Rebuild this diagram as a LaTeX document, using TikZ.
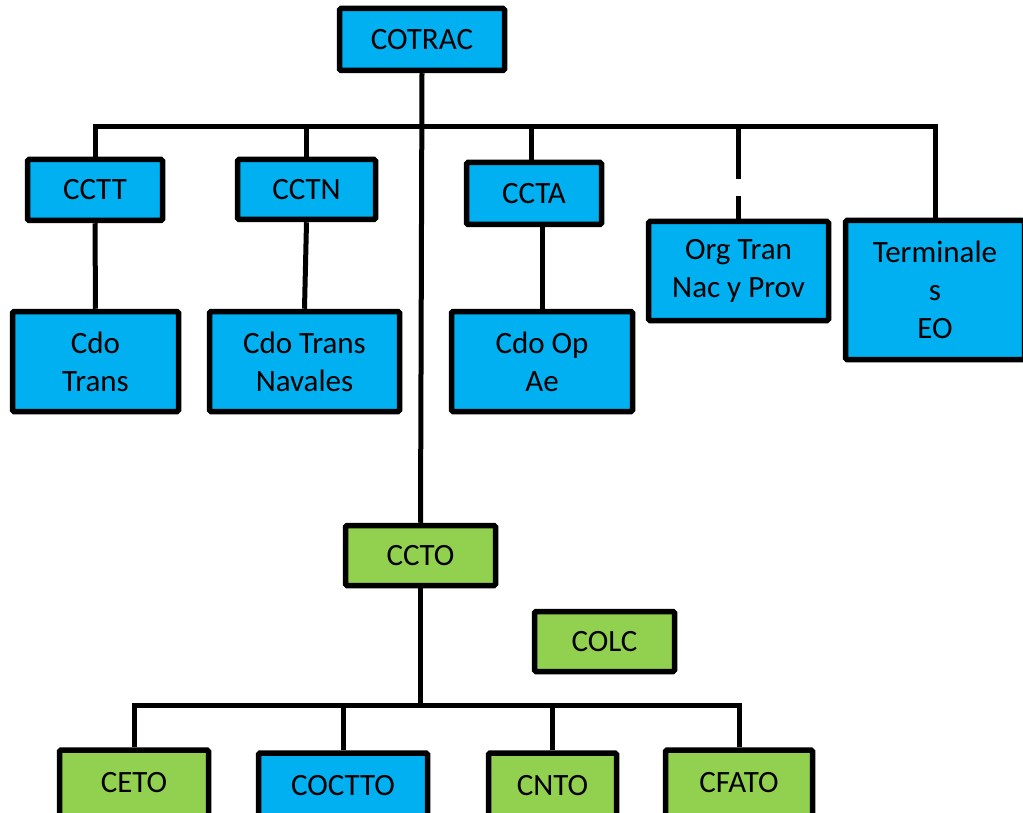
\documentclass[tikz,border=0pt]{standalone}
\usepackage{fontspec}
\setmainfont{Carlito}
\definecolor{boxblue}{HTML}{00B0F0}
\definecolor{boxgreen}{HTML}{92D050}
\begin{document}
\begin{tikzpicture}[x=1pt,y=-1pt,
  box/.style={draw=black, line width=5.5pt, rounded corners=1.5pt, align=center,
    inner sep=0pt, font=\fontsize{31}{38}\selectfont},
  bluebox/.style={box, fill=boxblue},
  greenbox/.style={box, fill=boxgreen},
  conn/.style={line width=5pt},
  dashconn/.style={line width=5pt, dash pattern=on 52pt off 17pt}]
\path[use as bounding box, clip] (0,0) rectangle (1023,813);
\fill[white] (0,0) rectangle (1023,813);
% top level
\node[bluebox, minimum width=165, minimum height=62] (cotrac) at (422,39.5) {COTRAC};
\node[bluebox, minimum width=135, minimum height=61] (cctt) at (95,190) {CCTT};
\node[bluebox, minimum width=138, minimum height=60] (cctn) at (306.5,189.5) {CCTN};
\node[bluebox, minimum width=135, minimum height=62] (ccta) at (534,193.5) {CCTA};
\node[bluebox, minimum width=180, minimum height=99] (org) at (738.5,271) {Org Tran\\Nac y Prov};
\node[bluebox, minimum width=179, minimum height=139] (term) at (935,290) {Terminale\\s\\EO};
\node[bluebox, minimum width=166, minimum height=100] (cdot) at (95.5,361.5) {Cdo\\Trans};
\node[bluebox, minimum width=190, minimum height=100] (cdotn) at (304.5,361.5) {Cdo Trans\\Navales};
\node[bluebox, minimum width=181, minimum height=100] (cdoop) at (542,361.5) {Cdo Op\\Ae};
% middle
\node[greenbox, minimum width=150, minimum height=60] (ccto) at (420.5,555.5) {CCTO};
\node[greenbox, minimum width=140, minimum height=60] (colc) at (604.5,641.5) {COLC};
% bottom
\node[greenbox, minimum width=149, minimum height=66] (ceto) at (134,783) {CETO};
\node[bluebox, minimum width=169, minimum height=66] (coctto) at (343,786) {COCTTO};
\node[greenbox, minimum width=128, minimum height=66] (cnto) at (552.5,786) {CNTO};
\node[greenbox, minimum width=147, minimum height=66] (cfato) at (739,783) {CFATO};
% top bar
\coordinate (bl) at (95,127);
\coordinate (br) at (935,127);
\draw[conn] ([xshift=-2.5]bl) -- ([xshift=2.5]br);
\draw[conn] (cotrac.south) -- (ccto.north);
\draw[conn] (cctt.north) -- (cctt.north |- bl);
\draw[conn] (cctn.north) -- (cctn.north |- bl);
\draw[conn] ([xshift=-3]ccta.north) -- ([xshift=-3]ccta.north |- bl);
\draw[dashconn] (org.north |- bl) -- (org.north);
\draw[conn] (term.north) -- (term.north |- bl);
\draw[conn] (cctt.south) -- (cdot.north);
\draw[conn] (cctn.south) -- (cdotn.north);
\draw[conn] (cdoop.north |- ccta.south) -- (cdoop.north);
% bottom bar
\coordinate (bbl) at (134,705);
\coordinate (bbr) at (739,705);
\draw[conn] ([xshift=-2.5]bbl) -- ([xshift=2.5]bbr);
\draw[conn] (ccto.south) -- (ccto.south |- bbl);
\draw[conn] (ceto.north) -- (ceto.north |- bbl);
\draw[conn] (coctto.north) -- (coctto.north |- bbl);
\draw[conn] (cnto.north) -- (cnto.north |- bbl);
\draw[conn] (cfato.north) -- (cfato.north |- bbl);
\end{tikzpicture}
\end{document}
